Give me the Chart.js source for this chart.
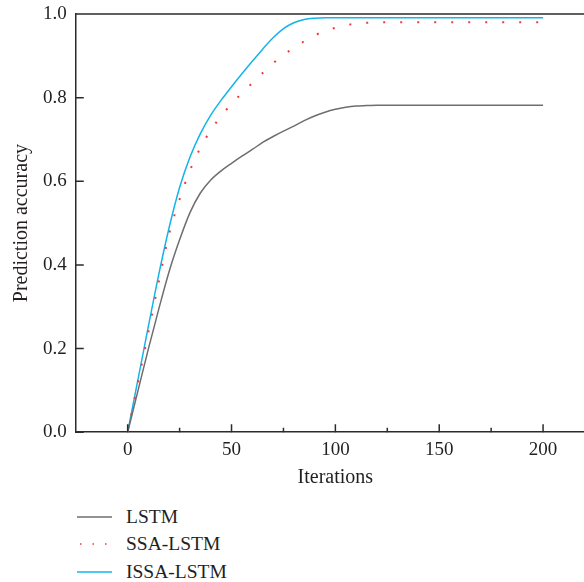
<!DOCTYPE html>
<html lang="en">
<head>
    <meta charset="utf-8">
    <title>Prediction accuracy vs iterations</title>
    <script src="https://cdn.jsdelivr.net/npm/chart.js@4.4.0/dist/chart.umd.min.js"></script>
    <style>
        body {
            margin: 0;
            width: 584px;
            height: 582px;
            overflow: hidden;
            background: #fff;
            position: relative;
            font-family: 'Liberation Serif', serif;
            color: #231f20;
        }
        #wrap {
            position: absolute;
            left: 0;
            top: 0;
            width: 600px;
            height: 493px;
        }
        #legend {
            position: absolute;
            left: 77px;
            top: 503px;
        }
        .item {
            display: flex;
            align-items: center;
            height: 27.5px;
            font-size: 19.5px;
        }
        .item svg {
            width: 35px;
            height: 4px;
            margin-right: 14px;
        }
    </style>
</head>
<body>
    <div id="wrap"><canvas id="chart"></canvas></div>
    <div id="legend"></div>
    <script>
        const iterations = [0, 5, 10, 15, 20, 25, 30, 35, 40, 45, 50, 55, 60, 65, 70, 75, 80, 85, 90, 95, 100, 105, 110, 115, 120, 140, 160, 180, 200];
        const lstm = [0, 0.1, 0.2, 0.295, 0.385, 0.46, 0.525, 0.572, 0.603, 0.625, 0.643, 0.66, 0.676, 0.693, 0.707, 0.72, 0.732, 0.745, 0.756, 0.765, 0.772, 0.777, 0.78, 0.781, 0.782, 0.782, 0.782, 0.782, 0.782];
        const ssaLstm = [0, 0.12, 0.24, 0.36, 0.475, 0.557, 0.626, 0.68, 0.722, 0.756, 0.785, 0.811, 0.835, 0.859, 0.882, 0.902, 0.919, 0.935, 0.949, 0.959, 0.967, 0.973, 0.977, 0.979, 0.98, 0.98, 0.98, 0.98, 0.98];
        const issaLstm = [0, 0.127, 0.254, 0.378, 0.49, 0.585, 0.658, 0.714, 0.758, 0.794, 0.826, 0.857, 0.887, 0.916, 0.943, 0.965, 0.979, 0.987, 0.99, 0.991, 0.991, 0.991, 0.991, 0.991, 0.991, 0.991, 0.991, 0.991, 0.991];

        const seriesNames = ['LSTM', 'SSA-LSTM', 'ISSA-LSTM'];
        const xTicks = [0, 50, 100, 150, 200];
        const xMinorTicks = [25, 75, 125, 175];
        const yTicks = [0, 0.2, 0.4, 0.6, 0.8, 1.0];

        const textColor = '#231f20';
        const axisColor = '#2b2b2b';
        const fontFamily = "'Liberation Serif', serif";

        const styles = [
            { color: '#6e6e6e', dash: [] },
            { color: '#f03a3a', dash: [2, 15] },
            { color: '#14b4ea', dash: [] }
        ];

        function toPoints(values) {
            return iterations.map((it, i) => ({ x: it, y: values[i] }));
        }

        // inward tick marks + the top frame line
        const axisTicks = {
            id: 'axisTicks',
            afterDraw(chart) {
                const { ctx, chartArea, scales: { x, y } } = chart;
                ctx.save();
                ctx.strokeStyle = axisColor;
                ctx.lineWidth = 1.5;
                ctx.beginPath();
                ctx.moveTo(chartArea.left, chartArea.top);
                ctx.lineTo(chart.width, chartArea.top);
                xTicks.forEach(v => {
                    const px = x.getPixelForValue(v);
                    ctx.moveTo(px, chartArea.bottom);
                    ctx.lineTo(px, chartArea.bottom - 8);
                });
                xMinorTicks.forEach(v => {
                    const px = x.getPixelForValue(v);
                    ctx.moveTo(px, chartArea.bottom);
                    ctx.lineTo(px, chartArea.bottom - 4.5);
                });
                yTicks.forEach(v => {
                    const py = y.getPixelForValue(v);
                    ctx.moveTo(chartArea.left, py);
                    ctx.lineTo(chartArea.left + 8, py);
                });
                ctx.stroke();
                ctx.restore();
            }
        };

        const ctx = document.getElementById('chart').getContext('2d');
        new Chart(ctx, {
            type: 'line',
            data: {
                datasets: [lstm, ssaLstm, issaLstm].map((values, i) => ({
                    label: seriesNames[i],
                    data: toPoints(values),
                    borderColor: styles[i].color,
                    borderDash: styles[i].dash,
                    borderWidth: i === 1 ? 2 : 1.5,
                    pointRadius: 0,
                    fill: false,
                    cubicInterpolationMode: 'monotone'
                }))
            },
            options: {
                responsive: true,
                maintainAspectRatio: false,
                animation: false,
                plugins: {
                    legend: { display: false },
                    tooltip: { enabled: false }
                },
                layout: {
                    padding: { top: 14, right: 5, bottom: 0, left: 4 }
                },
                scales: {
                    x: {
                        type: 'linear',
                        min: -25,
                        max: 225,
                        afterBuildTicks: scale => {
                            scale.ticks = xTicks.map(v => ({ value: v }));
                        },
                        grid: { display: false, drawTicks: false },
                        border: { display: true, color: axisColor, width: 1.5 },
                        ticks: {
                            padding: 6,
                            maxRotation: 0,
                            color: textColor,
                            font: { family: fontFamily, size: 19 }
                        },
                        title: {
                            display: true,
                            text: 'Iterations',
                            color: textColor,
                            padding: { top: -1, bottom: 3 },
                            font: { family: fontFamily, size: 20 }
                        }
                    },
                    y: {
                        min: 0,
                        max: 1,
                        afterBuildTicks: scale => {
                            scale.ticks = yTicks.map(v => ({ value: v }));
                        },
                        grid: { display: false, drawTicks: false },
                        border: { display: true, color: axisColor, width: 1.5 },
                        ticks: {
                            padding: 9,
                            color: textColor,
                            font: { family: fontFamily, size: 19, lineHeight: 0.5 },
                            callback: value => value.toFixed(1)
                        },
                        title: {
                            display: true,
                            text: 'Prediction accuracy',
                            color: textColor,
                            padding: { top: 6, bottom: 0 },
                            font: { family: fontFamily, size: 20 }
                        }
                    }
                }
            },
            plugins: [axisTicks]
        });

        // legend stacked under the plot
        const legend = document.getElementById('legend');
        seriesNames.forEach((name, i) => {
            const row = document.createElement('div');
            row.className = 'item';
            const dash = i === 1 ? ' stroke-dasharray="1.5 11" stroke-dashoffset="-3"' : '';
            row.innerHTML = `<svg viewBox="0 0 35 4"><line x1="0" y1="2" x2="35" y2="2" stroke="${styles[i].color}" stroke-width="1.5"${dash}/></svg><span>${name}</span>`;
            legend.appendChild(row);
        });
    </script>
</body>
</html>
